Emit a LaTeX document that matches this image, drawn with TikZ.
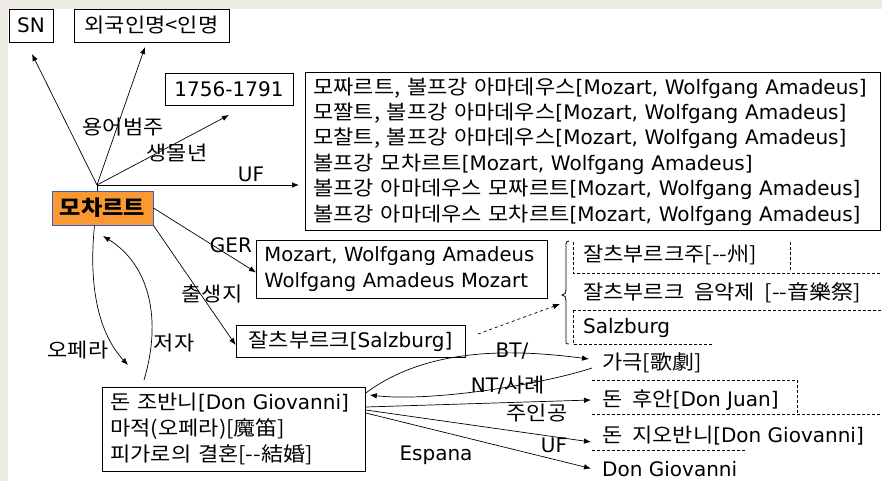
\documentclass[tikz,border=0pt]{standalone}
\usepackage{fontspec}
\setmainfont{DejaVu Sans}
\newfontfamily\kr[WordSpace=2,FakeStretch=1.1]{Noto Sans CJK KR}
\newcommand{\K}[1]{{\kr #1}}
\newcommand{\fs}{\fontsize{20}{25.4}\selectfont}
\usetikzlibrary{arrows.meta,calc}
\definecolor{paper}{RGB}{238,235,230}
\definecolor{mozfill}{RGB}{250,152,50}
\definecolor{mozline}{RGB}{60,90,200}
\begin{document}
\begin{tikzpicture}[x=1pt,y=-1pt,
  box/.style={draw, line width=0.8pt, inner sep=0pt, font=\fs},
  mbox/.style={draw, line width=0.8pt, inner ysep=0pt, align=left, anchor=north west, font=\fs},
  lbl/.style={inner sep=0pt, font=\fs},
  rt/.style={anchor=west, inner xsep=11pt, inner ysep=0pt, font=\fs},
  arr/.style={-{Latex[length=7pt,width=5.5pt]}, line width=0.7pt},
  dsh/.style={line width=0.7pt, dash pattern=on 3pt off 2pt}]
\fill[paper] (0,0) rectangle (882,481);
\fill[white] (8,9) rectangle (882,481);
\useasboundingbox (0,0) rectangle (882,481);

% boxes
\node[box, minimum width=44pt, minimum height=33pt] (sn) at (31,25.5) {SN};
\node[box, minimum width=155pt, minimum height=33pt] (frn) at (151.5,25.5) {\K{외국인명<인명}};
\node[box, minimum width=128pt, minimum height=32pt] (life) at (229,89) {1756-1791};
\node[box, draw=mozline, fill=mozfill, minimum width=101pt, minimum height=34pt] (moz) at (102.5,208)
  {{\fontsize{21}{25}\selectfont\kr\bfseries 모차르트}};
\node[mbox, inner xsep=8pt, text width=559pt, minimum height=158pt] (uf) at (305,72)
  {\K{모짜르트, 볼프강 아마데우스}[Mozart, Wolfgang Amadeus]\\
   \K{모짤트, 볼프강 아마데우스}[Mozart, Wolfgang Amadeus]\\
   \K{모찰트, 볼프강 아마데우스}[Mozart, Wolfgang Amadeus]\\
   \K{볼프강 모차르트}[Mozart, Wolfgang Amadeus]\\
   \K{볼프강 아마데우스 모짜르트}[Mozart, Wolfgang Amadeus]\\
   \K{볼프강 아마데우스 모차르트}[Mozart, Wolfgang Amadeus]};
\node[mbox, inner xsep=8pt, text width=275pt, minimum height=58pt, font=\fontsize{19.6}{26}\selectfont] (ger) at (256,240)
  {Mozart, Wolfgang Amadeus\\Wolfgang Amadeus Mozart};
\node[box, minimum width=229pt, minimum height=32pt] (salz) at (350.5,341) {\K{잘츠부르크}[Salzburg]};
\node[mbox, inner xsep=8pt, text width=247pt, minimum height=84pt, font=\fontsize{20}{26}\selectfont] (don) at (102,387)
  {\K{돈 조반니}[Don Giovanni]\\
   \K{마적(오페라)[魔笛]}\\
   \K{피가로의 결혼[-{}-結婚]}};

% right side texts
\node[lbl, anchor=west] (sz1) at (583,255) {\K{잘츠부르크주[-{}-州]}};
\node[lbl, anchor=west] (sz2) at (583,293) {\K{잘츠부르크 음악제 [-{}-音樂祭]}};
\node[lbl, anchor=west] (sz3) at (583,328) {Salzburg};
\node[rt] (gg) at (591,363) {\K{가극[歌劇]}};
\node[rt] (dj) at (591,400) {\K{돈 후안}[Don Juan]};
\node[rt] (dg) at (591,436) {\K{돈 지오반니}[Don Giovanni]};
\node[rt] (dg2) at (591,469.5) {Don Giovanni};

% dashed partial frames
\draw[dsh] (573,242) -- (573,273) -- (882,273);
\draw[dsh] (790,242) -- (790,271);
\draw[dsh] (573,310) -- (882,310);
\draw[dsh] (573,310) -- (573,344) -- (712,344);
\draw[dsh] (592,380) -- (797,380) -- (797,413);
\draw[dsh] (592,414) -- (882,414);
\draw[dsh] (592,450) -- (745,450);

% brace
\coordinate (brace) at (562,295);
\draw[line width=0.8pt] (569,241) .. controls (565,241) and (566,245) .. (566,250) -- (566,288)
  .. controls (566,293) and (565,295) .. (brace) .. controls (565,295) and (566,297) .. (566,302)
  -- (566,338) .. controls (566,343) and (565,344) .. (569,344);

% hub connectors
\coordinate (hub) at (97,185);
\coordinate (tSN) at (32,54);
\coordinate (tFrn) at (145,47);
\coordinate (tLife) at (229,115);
\coordinate (tUF) at (299,185);
\draw[line width=0.7pt] (hub) -- (moz.north -| hub);
\draw[arr] (hub) -- (tSN);
\draw[arr] (hub) -- (tFrn);
\draw[arr] (hub) -- (tLife);
\draw[arr] (hub) -- (tUF);

\draw[arr] (moz.east) -- ($(ger.west)+(0,3)$);
\draw[arr] (moz.south east) -- ($(salz.west)+(0,4)$);

\coordinate (tOpera) at (128,365);
\coordinate (sJeoja) at (144,380);
\coordinate (tJeoja) at (103,236);
\draw[arr] ($(moz.south)+(-8,0)$) .. controls (88,290) and (100,335) .. (tOpera);
\draw[arr] (sJeoja) .. controls (162,320) and (150,265) .. (tJeoja);

\coordinate (sDash) at (478,334);
\coordinate (tDash) at (560,304);
\draw[arr, dash pattern=on 3pt off 3pt] (sDash) -- (tDash);

% bottom connectors
\draw[arr] ($(don.north east)+(0,6)$) .. controls (430,345) and (520,350) .. ($(gg.west)+(-2,-4)$);
\draw[arr] ($(gg.west)+(1,5)$) .. controls (540,385) and (430,402) .. ($(don.north east)+(4,8)$);
\draw[arr] ($(don.north east)+(0,20)$) -- (dj.west);
\draw[arr] ($(don.north east)+(0,23)$) -- ($(dg.west)+(0,6)$);
\draw[arr] ($(don.north east)+(0,26)$) -- ($(dg2.west)+(0,-1)$);

% labels
\node[lbl] (l1) at (123,127) {\K{용어범주}};
\node[lbl] (l2) at (177,153) {\K{생몰년}};
\node[lbl] (l3) at (251,174) {UF};
\node[lbl] (l4) at (231,245) {GER};
\node[lbl] (l5) at (212,294) {\K{출생지}};
\node[lbl] (l6) at (78,350) {\K{오페라}};
\node[lbl] (l7) at (174,343) {\K{저자}};
\node[lbl] (l8) at (512,351) {BT/};
\node[lbl] (l9) at (508,385) {NT/\K{사례}};
\node[lbl] (l10) at (537,413) {\K{주인공}};
\node[lbl] (l11) at (554,445) {UF};
\node[lbl] (l12) at (436,455) {Espana};
\end{tikzpicture}
\end{document}
